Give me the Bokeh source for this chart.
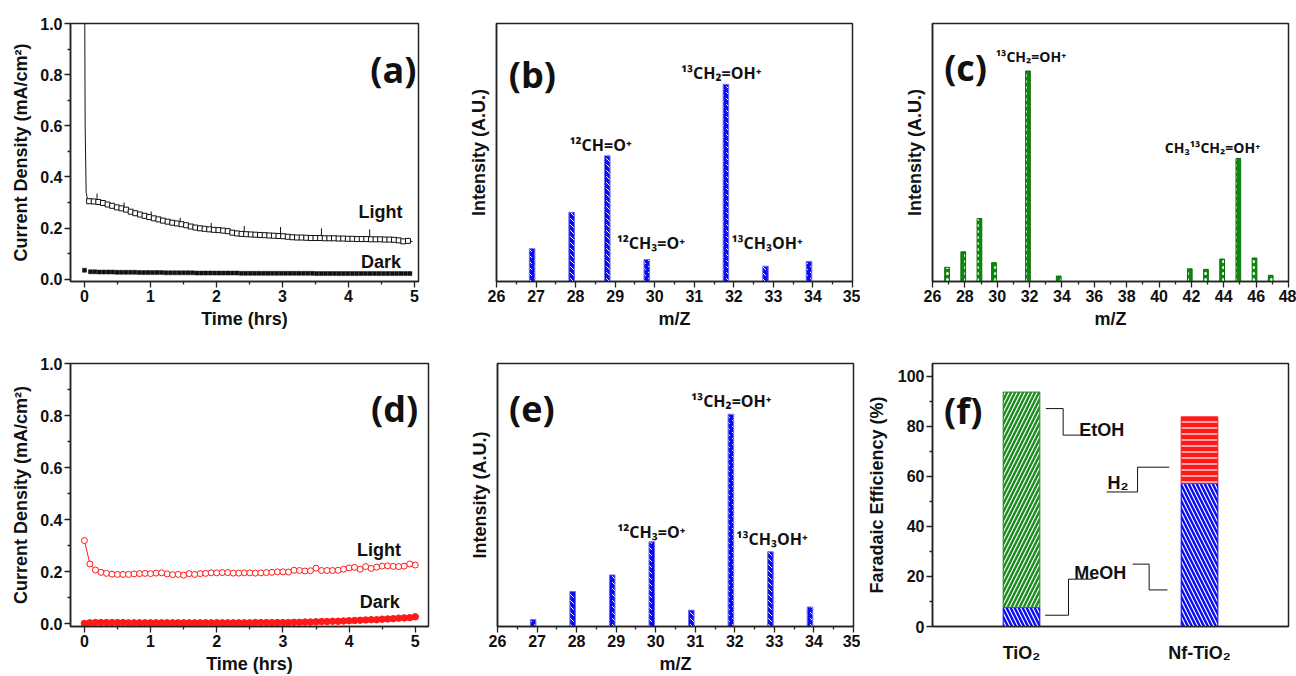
import numpy as np
from bokeh.plotting import figure
from bokeh.layouts import row, column
from bokeh.models import FixedTicker, PrintfTickFormatter, Label, Range1d
from bokeh.embed import file_html
from bokeh.resources import INLINE

# ---------------- data ----------------
# (a) TiO2 chronoamperometry
a_head_t = [0.0, 0.01, 0.025, 0.05]
a_head_j = [1.3, 0.6, 0.34, 0.305]
a_light = [0.305, 0.304, 0.302, 0.298, 0.292, 0.287, 0.281, 0.277, 0.272, 0.264,
           0.258, 0.253, 0.248, 0.243, 0.238, 0.234, 0.229, 0.225, 0.221, 0.218,
           0.215, 0.211, 0.206, 0.202, 0.199, 0.197, 0.195, 0.193, 0.192, 0.190,
           0.188, 0.182, 0.179, 0.177, 0.176, 0.175, 0.174, 0.173, 0.172, 0.171,
           0.170, 0.169, 0.168, 0.166, 0.164, 0.163, 0.163, 0.162, 0.161, 0.161,
           0.161, 0.160, 0.160, 0.160, 0.159, 0.159, 0.158, 0.158, 0.157, 0.157,
           0.157, 0.156, 0.156, 0.156, 0.155, 0.155, 0.154, 0.152, 0.148, 0.150]
a_light_t = np.linspace(0.07, 4.9, len(a_light))
a_spike_t = [0.19, 0.60, 1.01, 1.45, 1.92, 2.42, 2.97, 3.59, 4.32]
a_spike_base = [0.303, 0.276, 0.242, 0.213, 0.193, 0.177, 0.169, 0.161, 0.156]
a_spike_top = [0.335, 0.300, 0.265, 0.240, 0.220, 0.208, 0.204, 0.199, 0.195]
a_dark = [0.035,
          0.029, 0.029, 0.028, 0.028, 0.028, 0.028, 0.027, 0.027, 0.027, 0.027,
          0.027, 0.026, 0.026, 0.026, 0.026, 0.026, 0.026, 0.025, 0.025, 0.025,
          0.025, 0.025, 0.025, 0.025, 0.024, 0.024, 0.024, 0.024, 0.024, 0.024,
          0.024, 0.024, 0.024, 0.024, 0.023, 0.023, 0.023, 0.023, 0.023, 0.023,
          0.023, 0.023, 0.023, 0.023, 0.023, 0.023, 0.023, 0.023, 0.023, 0.023,
          0.023, 0.022, 0.022, 0.022, 0.022, 0.022, 0.022, 0.022, 0.022, 0.022,
          0.022, 0.022, 0.022, 0.022, 0.022, 0.022, 0.022, 0.022, 0.022, 0.022,
          0.022, 0.022, 0.022]
a_dark_t = np.concatenate([[0.0], np.linspace(0.09, 4.93, len(a_dark) - 1)])

# (b) MS, TiO2 + 13CO2 (blue)
b_mz = [26.9, 27.9, 28.8, 29.8, 31.8, 32.8, 33.9]
b_int = [12.7, 26.8, 48.7, 8.5, 76.4, 5.9, 7.8]

# (c) MS, green
c_mz = [26.9, 27.9, 28.9, 29.8, 31.9, 33.8, 41.9, 42.9, 43.9, 44.9, 45.9, 46.9]
c_int = [5.5, 11.5, 24.4, 7.3, 81.6, 2.1, 4.9, 4.7, 8.7, 47.7, 9.1, 2.4]

# (d) Nf-TiO2 chronoamperometry
d_light = [0.320, 0.230, 0.207, 0.198, 0.194, 0.191, 0.190, 0.190, 0.190, 0.192,
           0.193, 0.194, 0.193, 0.195, 0.196, 0.192, 0.189, 0.190, 0.187, 0.193,
           0.190, 0.193, 0.194, 0.196, 0.196, 0.197, 0.197, 0.195, 0.195, 0.196,
           0.196, 0.195, 0.196, 0.197, 0.198, 0.200, 0.200, 0.199, 0.206, 0.205,
           0.203, 0.204, 0.214, 0.205, 0.205, 0.205, 0.206, 0.210, 0.215, 0.217,
           0.210, 0.220, 0.213, 0.218, 0.222, 0.223, 0.221, 0.220, 0.222, 0.230,
           0.226]
d_dark = [0.002, 0.004, 0.005, 0.005, 0.005, 0.005, 0.005, 0.005, 0.004, 0.004,
          0.004, 0.004, 0.004, 0.004, 0.004, 0.004, 0.004, 0.004, 0.004, 0.004,
          0.004, 0.004, 0.004, 0.004, 0.004, 0.004, 0.004, 0.004, 0.004, 0.004,
          0.004, 0.005, 0.005, 0.005, 0.005, 0.005, 0.005, 0.005, 0.006, 0.006,
          0.007, 0.007, 0.008, 0.009, 0.009, 0.010, 0.010, 0.011, 0.012, 0.013,
          0.014, 0.015, 0.016, 0.016, 0.018, 0.019, 0.020, 0.022, 0.023, 0.024,
          0.027]
d_t = np.linspace(0.0, 5.0, len(d_light))

# (e) MS, Nf-TiO2
e_mz = [26.9, 27.9, 28.9, 29.9, 30.9, 31.9, 32.9, 33.9]
e_int = [2.6, 13.3, 19.6, 32.2, 6.2, 80.7, 28.4, 7.4]

# (f) Faradaic efficiency
f_cats = ["TiO\u2082", "Nf-TiO\u2082"]
f_pos = [1, 2]
f_meoh = [7.6, 57.1]
f_etoh = [86.0, 0.0]
f_h2 = [0.0, 26.6]

FONT = "Liberation Sans"
LFONT = "Open Sans"
BLUE = "#0a0af5"
GREEN = "#0a8c0a"
RED = "#ff1a1a"


def base_fig(w, h, xr, yr, bl, br, bt, bb):
    p = figure(width=w, height=h, x_range=Range1d(*xr), y_range=Range1d(*yr),
               output_backend="svg", toolbar_location=None,
               min_border_left=bl, min_border_right=br,
               min_border_top=bt, min_border_bottom=bb)
    p.xgrid.visible = False
    p.ygrid.visible = False
    p.outline_line_color = "#222222"
    p.outline_line_width = 1.5
    p.background_fill_color = "white"
    p.border_fill_color = "white"
    for ax in (p.xaxis[0], p.yaxis[0]):
        ax.axis_line_color = "#222222"
        ax.axis_line_width = 1.5
        ax.major_tick_line_color = "#222222"
        ax.minor_tick_line_color = "#222222"
        ax.major_tick_line_width = 1.3
        ax.minor_tick_line_width = 1.3
        ax.major_tick_in = 0
        ax.major_tick_out = 6
        ax.minor_tick_in = 0
        ax.minor_tick_out = 3
        ax.major_label_text_font = FONT
        ax.major_label_text_font_style = "bold"
        ax.major_label_text_font_size = "16px"
        ax.major_label_text_color = "#111111"
        ax.major_label_standoff = 2
        ax.axis_label_text_font = FONT
        ax.axis_label_text_font_style = "bold"
        ax.axis_label_text_font_size = "18px"
        ax.axis_label_text_color = "#111111"
        ax.axis_label_standoff = 8
    return p


def lab(p, x, y, text, size, font=FONT, align="left"):
    p.add_layout(Label(x=x, y=y, text=text, text_font=font, text_font_style="bold",
                       text_font_size=size, text_color="#111111", text_align=align,
                       text_baseline="alphabetic"))


def time_axes(p):
    p.xaxis[0].ticker = FixedTicker(ticks=[0, 1, 2, 3, 4, 5],
                                    minor_ticks=[0.5, 1.5, 2.5, 3.5, 4.5])
    p.yaxis[0].ticker = FixedTicker(ticks=[0, 0.2, 0.4, 0.6, 0.8, 1.0],
                                    minor_ticks=[0.1, 0.3, 0.5, 0.7, 0.9])
    p.yaxis[0].formatter = PrintfTickFormatter(format="%.1f")
    p.xaxis[0].axis_label = "Time (hrs)"
    p.yaxis[0].axis_label = "Current Density (mA/cm\u00b2)"
    p.xaxis[0].axis_label_standoff = 4
    p.yaxis[0].axis_label_standoff = 6


def ms_axes(p, ticks, minor):
    p.xaxis[0].ticker = FixedTicker(ticks=ticks, minor_ticks=minor)
    p.yaxis[0].ticker = FixedTicker(ticks=[], minor_ticks=[])
    p.xaxis[0].axis_label = "m/Z"
    p.yaxis[0].axis_label = "Intensity (A.U.)"
    p.xaxis[0].axis_label_standoff = 4


# ---------------- (a) ----------------
pa = base_fig(430, 340, (-0.212, 5.06), (-0.009, 1.0), 70, 12, 20, 55)
time_axes(pa)
pa.line(list(a_head_t) + list(a_light_t) + [4.97], list(a_head_j) + a_light + [0.147],
        line_color="#111111", line_width=1)
pa.segment(x0=a_spike_t, y0=a_spike_base, x1=a_spike_t, y1=a_spike_top,
           line_color="#111111", line_width=1)
pa.scatter(a_light_t, a_light, marker="square", size=5, fill_color="white",
           line_color="#111111", line_width=1)
pa.scatter(a_dark_t, a_dark, marker="square", size=4, fill_color="#111111",
           line_color="#111111", line_width=0.5)
lab(pa, 4.33, 0.821, "(a)", "36px", LFONT)
lab(pa, 4.15, 0.264, "Light", "18px")
lab(pa, 4.19, 0.067, "Dark", "18px")

# ---------------- (b) ----------------
pb = base_fig(430, 340, (26, 35), (0, 100), 66, 8, 16, 59)
ms_axes(pb, list(range(26, 36)), [26.5 + i for i in range(9)])
pb.vbar(x=b_mz, top=b_int, width=0.14, fill_color=BLUE, line_color="#6a6aff",
        line_width=1, hatch_pattern="`", hatch_color="white", hatch_scale=6,
        hatch_weight=1)
lab(pb, 26.31, 80.3, "(b)", "36px", LFONT)
lab(pb, 28.63, 53.1, "\u00b9\u00b2CH=O\u207a", "16px", LFONT, "center")
lab(pb, 29.9, 14.8, "\u00b9\u00b2CH\u2083=O\u207a", "16px", LFONT, "center")
lab(pb, 31.68, 80.8, "\u00b9\u00b3CH\u2082=OH\u207a", "16px", LFONT, "center")
lab(pb, 32.84, 14.8, "\u00b9\u00b3CH\u2083OH\u207a", "16px", LFONT, "center")

# ---------------- (c) ----------------
pc = base_fig(436, 340, (26, 48), (0, 100), 72, 8, 23, 53)
ms_axes(pc, list(range(26, 49, 2)), list(range(27, 48, 2)))
pc.vbar(x=c_mz, top=c_int, width=0.29, fill_color=GREEN, line_color="#0a6a0a",
        line_width=1, hatch_pattern=".", hatch_color="white", hatch_scale=6,
        hatch_weight=1)
lab(pc, 26.72, 82.8, "(c)", "36px", LFONT)
lab(pc, 29.91, 87.1, "\u00b9\u00b3CH\u2082=OH\u207a", "14px", LFONT)
lab(pc, 40.36, 51.9, "CH\u2083\u00b9\u00b3CH\u2082=OH\u207a", "14px", LFONT)

# ---------------- (d) ----------------
pd_ = base_fig(430, 336, (-0.21, 5.2), (-0.01, 1.0), 70, 2, 23, 47)
time_axes(pd_)
pd_.line(d_t, d_light, line_color=RED, line_width=1)
pd_.scatter(d_t, d_light, marker="circle", size=6, fill_color="white",
            line_color=RED, line_width=1)
pd_.line(d_t, d_dark, line_color=RED, line_width=1)
pd_.scatter(d_t, d_dark, marker="circle", size=6.5, fill_color=RED, line_color=RED)
lab(pd_, 4.33, 0.826, "(d)", "36px", LFONT)
lab(pd_, 4.12, 0.283, "Light", "18px")
lab(pd_, 4.16, 0.083, "Dark", "18px")

# ---------------- (e) ----------------
pe = base_fig(430, 336, (26, 35), (0, 100), 67, 7, 23, 47)
ms_axes(pe, list(range(26, 36)), [26.5 + i for i in range(9)])
pe.vbar(x=e_mz, top=e_int, width=0.14, fill_color=BLUE, line_color="#6a6aff",
        line_width=1, hatch_pattern="`", hatch_color="white", hatch_scale=6,
        hatch_weight=1)
lab(pe, 26.29, 82.8, "(e)", "36px", LFONT)
lab(pe, 31.91, 85.6, "\u00b9\u00b3CH\u2082=OH\u207a", "16px", LFONT, "center")
lab(pe, 29.89, 36.0, "\u00b9\u00b2CH\u2083=O\u207a", "16px", LFONT, "center")
lab(pe, 32.94, 33.4, "\u00b9\u00b3CH\u2083OH\u207a", "16px", LFONT, "center")

# ---------------- (f) ----------------
pf = base_fig(436, 336, (0.5, 2.5), (0, 105), 72, 8, 23, 47)
pf.xaxis[0].ticker = FixedTicker(ticks=f_pos, minor_ticks=[])
pf.xaxis[0].major_label_overrides = {1: f_cats[0], 2: f_cats[1]}
pf.xaxis[0].major_tick_line_color = None
pf.xaxis[0].major_label_text_font_size = "18px"
pf.xaxis[0].major_label_standoff = 10
pf.yaxis[0].ticker = FixedTicker(ticks=[0, 20, 40, 60, 80, 100],
                                 minor_ticks=[10, 30, 50, 70, 90])
pf.yaxis[0].axis_label = "Faradaic Efficiency (%)"
meoh_top = f_meoh
etoh_top = [m + e for m, e in zip(f_meoh, f_etoh)]
h2_top = [m + h for m, h in zip(f_meoh, f_h2)]
pf.vbar(x=f_pos, bottom=0, top=meoh_top, width=0.206, fill_color=BLUE,
        line_color=BLUE, hatch_pattern="\\", hatch_color="white", hatch_scale=8,
        hatch_weight=1.2)
pf.vbar(x=[f_pos[0]], bottom=[meoh_top[0]], top=[etoh_top[0]], width=0.206,
        fill_color="#1e8c1e", line_color="#1e8c1e", hatch_pattern="/",
        hatch_color="white", hatch_scale=8, hatch_weight=1.2)
pf.vbar(x=[f_pos[1]], bottom=[meoh_top[1]], top=[h2_top[1]], width=0.206,
        fill_color=RED, line_color=RED, hatch_pattern="-", hatch_color="white",
        hatch_scale=6, hatch_weight=1.2)
br_xs = [[1.137, 1.234, 1.234, 1.337], [1.83, 1.652, 1.652, 1.478],
         [1.133, 1.264, 1.264, 1.399], [1.624, 1.717, 1.717, 1.82]]
br_ys = [[87.0, 87.0, 76.4, 76.4], [63.6, 63.6, 53.7, 53.7],
         [4.5, 4.5, 18.9, 18.9], [24.9, 24.9, 14.6, 14.6]]
pf.multi_line(br_xs, br_ys, line_color="#111111", line_width=1)
lab(pf, 0.565, 86.1, "(f)", "36px", LFONT)
lab(pf, 1.324, 78.4, "EtOH", "18px")
lab(pf, 1.483, 57.1, "H\u2082", "18px")
lab(pf, 1.296, 21.2, "MeOH", "18px")

layout = column(row(pa, pb, pc), row(pd_, pe, pf))
open("out.html", "w").write(file_html(layout, INLINE))
